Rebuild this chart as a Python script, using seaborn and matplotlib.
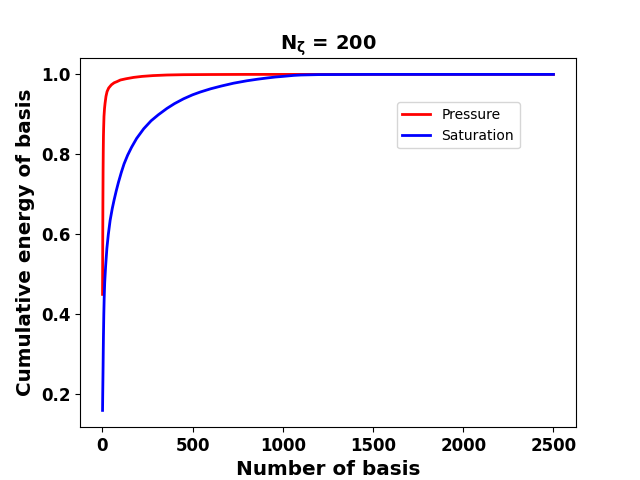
import matplotlib
matplotlib.use('Agg')
import matplotlib.pyplot as plt
import seaborn as sns

# values
pressure_basis = [1, 2, 3, 4, 5, 6, 7, 9, 12, 15, 20, 26, 35, 50, 65, 81, 100,
                  130, 173, 220, 280, 358, 450, 600, 800, 1000, 1500, 2000, 2500]
pressure_energy = [0.45, 0.58, 0.68, 0.76, 0.81, 0.845, 0.865, 0.895, 0.915,
                   0.928, 0.945, 0.957, 0.966, 0.974, 0.979, 0.982, 0.986,
                   0.989, 0.9925, 0.995, 0.997, 0.9985, 0.9993, 0.9997, 1.0,
                   1.0, 1.0, 1.0, 1.0]

saturation_basis = [1, 2, 3, 4, 5, 6, 8, 10, 13, 18, 25, 33, 43, 55, 65, 77,
                    89, 105, 120, 140, 162, 190, 229, 270, 310, 358, 400, 450,
                    500, 543, 600, 660, 727, 800, 860, 912, 960, 1000, 1060,
                    1100, 1200, 1500, 2000, 2500]
saturation_energy = [0.16, 0.20, 0.235, 0.27, 0.31, 0.345, 0.40, 0.44, 0.48,
                     0.52, 0.565, 0.60, 0.635, 0.665, 0.686, 0.709, 0.730,
                     0.755, 0.776, 0.798, 0.818, 0.840, 0.864, 0.884, 0.899,
                     0.915, 0.927, 0.939, 0.949, 0.956, 0.964, 0.971, 0.978,
                     0.984, 0.988, 0.991, 0.9935, 0.995, 0.9975, 0.9985,
                     0.9995, 1.0, 1.0, 1.0]

fig, ax = plt.subplots(figsize=(6.4, 4.8), dpi=100)

sns.lineplot(x=pressure_basis, y=pressure_energy, color='red', linewidth=2,
             label='Pressure', ax=ax)
sns.lineplot(x=saturation_basis, y=saturation_energy, color='blue', linewidth=2,
             label='Saturation', ax=ax)

ax.set_title(r'$\mathbf{N_{\zeta}}$ = 200', fontsize=14, fontweight='bold')
ax.set_xlabel('Number of basis', fontsize=14.4, fontweight='bold')
ax.set_ylabel('Cumulative energy of basis', fontsize=14.4, fontweight='bold')
ax.set_xticks([0, 500, 1000, 1500, 2000, 2500])
ax.set_yticks([0.2, 0.4, 0.6, 0.8, 1.0])
for lbl in ax.get_xticklabels() + ax.get_yticklabels():
    lbl.set_fontsize(12)
    lbl.set_fontweight('bold')

ax.legend(loc='upper left', bbox_to_anchor=(0.639, 0.879), borderaxespad=0)

fig.savefig('out.png', dpi=100)
